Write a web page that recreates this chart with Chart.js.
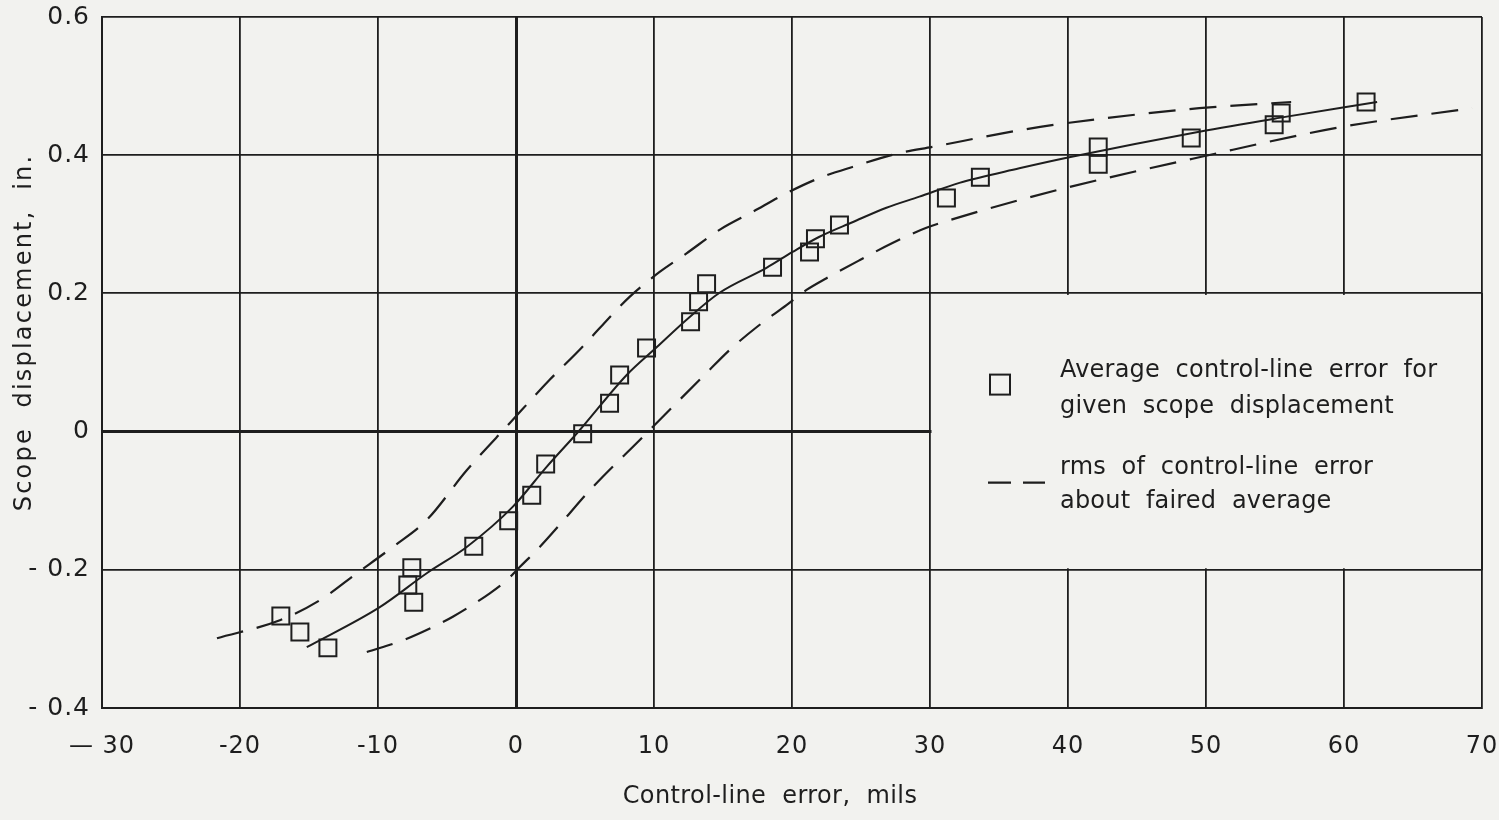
<!DOCTYPE html>
<html>
<head>
<meta charset="utf-8">
<script src="https://cdn.jsdelivr.net/npm/chart.js@4.4.0/dist/chart.umd.min.js"></script>
<style>
  html, body { margin: 0; padding: 0; background: #f2f2ef; }
  #wrap { width: 1499px; height: 820px; position: relative; }
</style>
</head>
<body>
<div id="wrap"><canvas id="c" width="1499" height="820"></canvas></div>
<script>
// ---- data ----
const xTickValues = [-30, -20, -10, 0, 10, 20, 30, 40, 50, 60, 70];
const xTickLabels = ['\u2014 30', '-20', '-10', '0', '10', '20', '30', '40', '50', '60', '70'];
const yTickValues = [-0.4, -0.2, 0, 0.2, 0.4, 0.6];
const yTickLabels = ['- 0.4', '- 0.2', '0', '0.2', '0.4', '0.6'];

// measured averages (squares)
const avgX = [-17.04, -15.66, -13.63, -7.55, -7.84, -7.41, -3.06, -0.53, 1.14, 2.15, 4.83, 6.78, 7.51, 9.46, 12.65, 13.23, 13.81, 18.59, 21.27, 21.70, 23.44, 31.19, 33.65, 42.19, 42.19, 48.93, 54.94, 55.45, 61.60];
const avgY = [-0.267, -0.290, -0.313, -0.197, -0.222, -0.247, -0.166, -0.129, -0.092, -0.047, -0.003, 0.041, 0.082, 0.121, 0.159, 0.188, 0.214, 0.238, 0.260, 0.279, 0.299, 0.338, 0.368, 0.412, 0.387, 0.425, 0.444, 0.461, 0.477];

// faired average (solid)
const fairedX = [-15.16, -9.87, -6.47, -3.57, -0.24, 2.22, 4.61, 8.02, 10.19, 12.36, 14.75, 18.15, 20.04, 21.99, 24.38, 26.84, 29.23, 32.13, 36.47, 40.09, 49.51, 55.30, 62.40];
const fairedY = [-0.312, -0.254, -0.205, -0.167, -0.109, -0.051, 0.002, 0.082, 0.122, 0.162, 0.201, 0.237, 0.260, 0.282, 0.303, 0.324, 0.340, 0.360, 0.381, 0.397, 0.434, 0.454, 0.477];

// rms band, upper (dashed)
const upperX = [-21.67, -17.11, -14.21, -11.54, -8.93, -6.47, -3.57, -0.46, 2.44, 4.40, 8.23, 10.41, 12.36, 14.75, 17.14, 19.60, 21.99, 24.38, 27.78, 30.17, 36.47, 40.09, 49.51, 56.17];
const upperY = [-0.299, -0.273, -0.244, -0.205, -0.167, -0.128, -0.056, 0.012, 0.075, 0.114, 0.195, 0.231, 0.258, 0.292, 0.318, 0.345, 0.367, 0.383, 0.403, 0.412, 0.436, 0.447, 0.468, 0.477];

// rms band, lower (dashed)
const lowerX = [-10.81, -8.20, -5.74, -4.58, -1.90, -0.67, 0.27, 1.72, 3.16, 5.34, 9.17, 13.81, 15.47, 17.43, 19.60, 21.05, 22.50, 24.89, 27.28, 29.74, 31.91, 36.47, 40.09, 49.51, 59.86, 69.28];
const lowerY = [-0.319, -0.302, -0.280, -0.268, -0.234, -0.215, -0.196, -0.167, -0.135, -0.085, -0.008, 0.085, 0.118, 0.151, 0.183, 0.205, 0.222, 0.248, 0.273, 0.295, 0.309, 0.335, 0.354, 0.397, 0.441, 0.468];

const legendLines1 = ['Average  control-line  error  for', 'given  scope  displacement'];
const legendLines2 = ['rms  of  control-line  error', 'about  faired  average'];
const xTitle = 'Control-line  error,  mils';
const yTitle = 'Scope  displacement,  in.';

// ---- styling ----
const INK = '#1e1e1e';
const BG = '#f2f2ef';
const FONT = '"DejaVu Sans", "Liberation Sans", sans-serif';

const toPts = (xs, ys) => xs.map((x, i) => ({ x: x, y: ys[i] }));

const decorPlugin = {
  id: 'decor',
  beforeInit(chart) {
    chart.ctx.letterSpacing = '1px';
  },
  beforeDraw(chart) {
    const ctx = chart.ctx;
    ctx.letterSpacing = '1px';
    ctx.save();
    ctx.fillStyle = BG;
    ctx.fillRect(0, 0, chart.width, chart.height);
    ctx.restore();
  },
  beforeDatasetsDraw(chart) {
    // the legend panel (x 30..70, y -0.2..0.2) has no inner grid lines
    const xs = chart.scales.x, ys = chart.scales.y;
    const l = xs.getPixelForValue(30) + 1.5;
    const r = xs.getPixelForValue(70);
    const t = ys.getPixelForValue(0.2) + 1.5;
    const b = ys.getPixelForValue(-0.2) - 1.5;
    const ctx = chart.ctx;
    ctx.save();
    ctx.fillStyle = BG;
    ctx.fillRect(l, t, r - 1 - l, b - t);
    // keep the frame's right edge intact through the panel
    ctx.strokeStyle = INK;
    ctx.lineWidth = 1.8;
    ctx.beginPath();
    ctx.moveTo(r, t - 2);
    ctx.lineTo(r, b + 2);
    ctx.stroke();
    ctx.restore();
  },
  afterDraw(chart) {
    const xs = chart.scales.x, ys = chart.scales.y;
    const area = chart.chartArea;
    const ctx = chart.ctx;
    const x0 = xs.getPixelForValue(30);
    const y0 = ys.getPixelForValue(0);
    ctx.save();
    ctx.fillStyle = INK;
    ctx.strokeStyle = INK;
    ctx.font = '24px ' + FONT;
    ctx.letterSpacing = '0.2px';
    ctx.textBaseline = 'alphabetic';
    ctx.textAlign = 'left';
    const tx = x0 + 130;
    // legend entry 1: square
    ctx.lineWidth = 2;
    ctx.strokeRect(x0 + 60, y0 - 57, 20, 20);
    ctx.fillText(legendLines1[0], tx, y0 - 55);
    ctx.fillText(legendLines1[1], tx, y0 - 19);
    // legend entry 2: dashes
    ctx.lineWidth = 2.2;
    ctx.beginPath();
    ctx.moveTo(x0 + 58, y0 + 51); ctx.lineTo(x0 + 81, y0 + 51);
    ctx.moveTo(x0 + 93, y0 + 51); ctx.lineTo(x0 + 115, y0 + 51);
    ctx.stroke();
    ctx.fillText(legendLines2[0], tx, y0 + 42);
    ctx.fillText(legendLines2[1], tx, y0 + 76);

    // axis titles
    ctx.textAlign = 'center';
    ctx.textBaseline = 'middle';
    ctx.letterSpacing = '0.4px';
    ctx.fillText(xTitle, (area.left + area.right) / 2 - 22, 797);
    ctx.save();
    ctx.translate(25, (area.top + area.bottom) / 2 - 30);
    ctx.rotate(-Math.PI / 2);
    ctx.letterSpacing = '2.2px';
    ctx.fillText(yTitle, 0, 0);
    ctx.restore();
    ctx.restore();
  }
};

const gridWidth = (ctx) => (ctx.tick && ctx.tick.value === 0) ? 3 : 1.8;

new Chart(document.getElementById('c'), {
  type: 'scatter',
  data: {
    datasets: [
      {
        label: 'Average control-line error for given scope displacement',
        data: toPts(avgX, avgY),
        pointStyle: 'rect',
        pointRadius: 12,
        borderColor: INK,
        borderWidth: 2,
        backgroundColor: 'rgba(0,0,0,0)',
        showLine: false
      },
      {
        label: 'Faired average',
        data: toPts(fairedX, fairedY),
        showLine: true,
        borderColor: INK,
        borderWidth: 2,
        pointRadius: 0,
        cubicInterpolationMode: 'monotone',
        fill: false
      },
      {
        label: 'rms upper',
        data: toPts(upperX, upperY),
        showLine: true,
        borderColor: INK,
        borderWidth: 2.2,
        borderDash: [27, 14],
        pointRadius: 0,
        cubicInterpolationMode: 'monotone',
        fill: false
      },
      {
        label: 'rms lower',
        data: toPts(lowerX, lowerY),
        showLine: true,
        borderColor: INK,
        borderWidth: 2.2,
        borderDash: [27, 14],
        pointRadius: 0,
        cubicInterpolationMode: 'monotone',
        fill: false
      }
    ]
  },
  options: {
    responsive: false,
    animation: false,
    layout: { padding: { left: 0, right: 17, top: 17, bottom: 0 } },
    plugins: {
      legend: { display: false },
      tooltip: { enabled: false }
    },
    scales: {
      x: {
        type: 'linear',
        min: -30,
        max: 70,
        afterBuildTicks: (s) => { s.ticks = xTickValues.map(v => ({ value: v })); },
        afterFit: (s) => { s.height = 112; s.paddingLeft = 0; s.paddingRight = 0; },
        ticks: {
          color: INK,
          font: { family: FONT, size: 24 },
          padding: 24,
          maxRotation: 0,
          autoSkip: false,
          callback: (v, i) => xTickLabels[i]
        },
        grid: { color: INK, lineWidth: gridWidth, drawTicks: false },
        border: { display: true, color: INK, width: 2 },
        title: { display: false, text: xTitle }
      },
      y: {
        type: 'linear',
        min: -0.4,
        max: 0.6,
        afterBuildTicks: (s) => { s.ticks = yTickValues.map(v => ({ value: v })); },
        afterFit: (s) => { s.width = 102; s.paddingTop = 0; s.paddingBottom = 0; },
        ticks: {
          color: INK,
          font: { family: FONT, size: 25 },
          padding: 12,
          autoSkip: false,
          callback: (v, i) => yTickLabels[i]
        },
        grid: { color: INK, lineWidth: gridWidth, drawTicks: false },
        border: { display: true, color: INK, width: 2 },
        title: { display: false, text: yTitle }
      }
    }
  },
  plugins: [decorPlugin]
});
</script>
</body>
</html>
